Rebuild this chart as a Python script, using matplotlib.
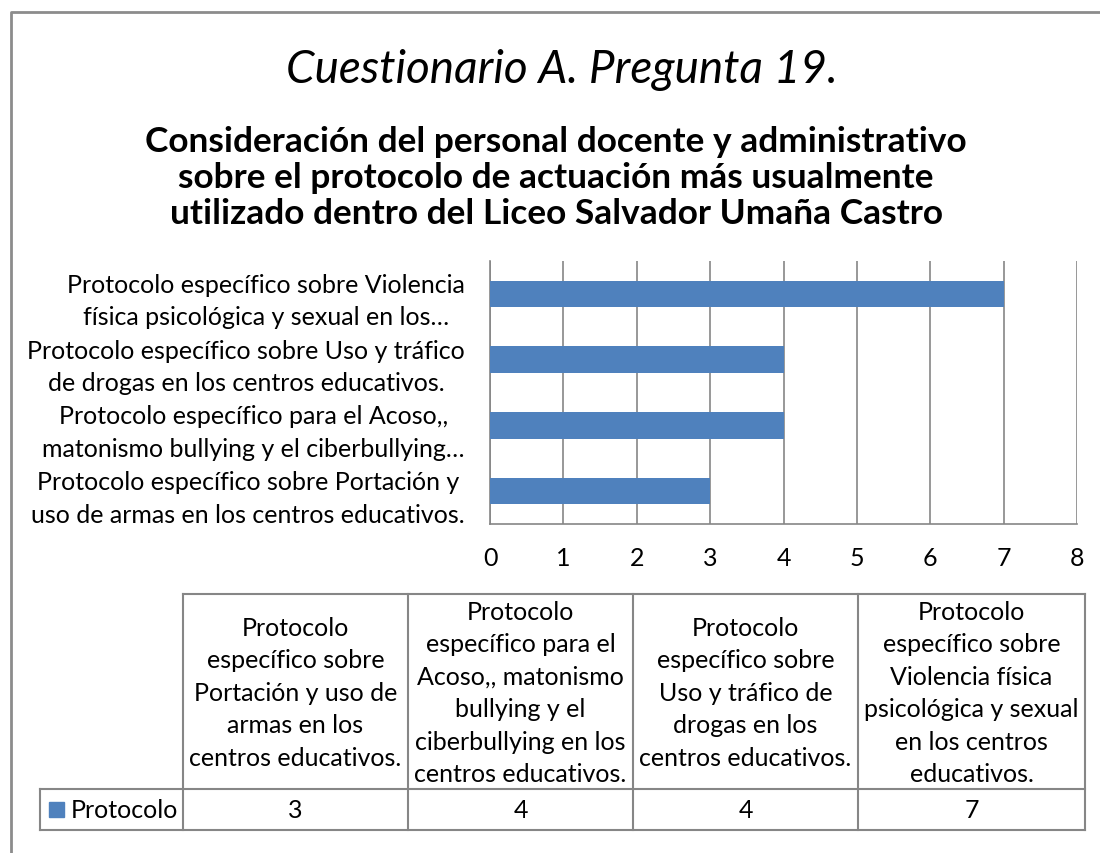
import matplotlib.pyplot as plt
from matplotlib.lines import Line2D
from matplotlib.patches import Rectangle

plt.rcParams['font.family'] = ['Lato', 'DejaVu Sans']

# Data (bottom to top on the chart, left to right in the table)
axis_labels = [
    "Protocolo específico sobre Portación y\nuso de armas en los centros educativos.",
    "Protocolo específico para el Acoso,,\nmatonismo bullying y el ciberbullying…",
    "Protocolo específico sobre Uso y tráfico\nde drogas en los centros educativos.",
    "Protocolo específico sobre Violencia\nfísica psicológica y sexual en los…",
]
table_labels = [
    "Protocolo\nespecífico sobre\nPortación y uso de\narmas en los\ncentros educativos.",
    "Protocolo\nespecífico para el\nAcoso,, matonismo\nbullying y el\nciberbullying en los\ncentros educativos.",
    "Protocolo\nespecífico sobre\nUso y tráfico de\ndrogas en los\ncentros educativos.",
    "Protocolo\nespecífico sobre\nViolencia física\npsicológica y sexual\nen los centros\neducativos.",
]
values = [3, 4, 4, 7]
series_name = "Protocolo"

title_1 = "Cuestionario A. Pregunta 19."
title_2 = ("Consideración del personal docente y administrativo\n"
           "sobre el protocolo de actuación más usualmente\n"
           "utilizado dentro del Liceo Salvador Umaña Castro")

W, H = 1100, 854
bar_color = "#4F81BD"
line_color = "#868686"
fs = 18

fig = plt.figure(figsize=(W / 100, H / 100), dpi=100)

# overlay in pixel coordinates for border, titles and data table
ov = fig.add_axes([0, 0, 1, 1])
ov.set_xlim(0, W)
ov.set_ylim(H, 0)
ov.axis("off")

ov.add_line(Line2D([11, 11, W], [H, 13, 13], color="#8c8c8c", lw=2))

ov.text(562, 70, title_1, ha="center", va="center", fontsize=33, style="italic")
ov.text(556, 178, title_2, ha="center", va="center", fontsize=25.4, fontweight="bold",
        linespacing=1.17)

# bar chart
px_left, px_right, px_top, px_bottom = 490, 1077, 262, 525
ax = fig.add_axes([px_left / W, 1 - px_bottom / H,
                   (px_right - px_left) / W, (px_bottom - px_top) / H])
pos = range(len(values))
ax.barh(pos, values, height=0.4, color=bar_color, zorder=3)
ax.set_xlim(0, 8)
ax.set_ylim(-0.5, len(values) - 0.5)
ax.set_xticks(range(0, 9))
ax.set_yticks(list(pos))
ax.set_yticklabels(axis_labels, fontsize=fs, ha="right", multialignment="center",
                   linespacing=1.5)
ax.tick_params(axis="x", length=0, pad=16, labelsize=fs)
ax.tick_params(axis="y", length=0, pad=18)
ax.grid(axis="x", color=line_color, lw=1.2, zorder=0)
for s in ["top", "right"]:
    ax.spines[s].set_visible(False)
for s in ["left", "bottom"]:
    ax.spines[s].set_color(line_color)
    ax.spines[s].set_linewidth(1.2)

# data table
col_edges = [183, 408, 633, 858, 1085]
legend_left = 40
row_top, row_mid, row_bottom = 595, 790, 831
tkw = dict(color=line_color, lw=1.5)
ov.add_line(Line2D([col_edges[0], col_edges[-1]], [row_top, row_top], **tkw))
ov.add_line(Line2D([legend_left, col_edges[-1]], [row_mid, row_mid], **tkw))
ov.add_line(Line2D([legend_left, col_edges[-1]], [row_bottom, row_bottom], **tkw))
ov.add_line(Line2D([legend_left, legend_left], [row_mid, row_bottom], **tkw))
for x in col_edges:
    ov.add_line(Line2D([x, x], [row_top, row_bottom], **tkw))

for i, (lab, v) in enumerate(zip(table_labels, values)):
    cx = (col_edges[i] + col_edges[i + 1]) / 2
    ov.text(cx, (row_top + row_mid) / 2 + 1, lab, ha="center", va="center",
            fontsize=fs, linespacing=1.5)
    ov.text(cx, (row_mid + row_bottom) / 2, str(v), ha="center", va="center", fontsize=fs)

ov.add_patch(Rectangle((49, 803), 15, 15, color=bar_color))
ov.text(71, (row_mid + row_bottom) / 2, series_name, ha="left", va="center", fontsize=fs)

fig.savefig("out.png", dpi=100)
